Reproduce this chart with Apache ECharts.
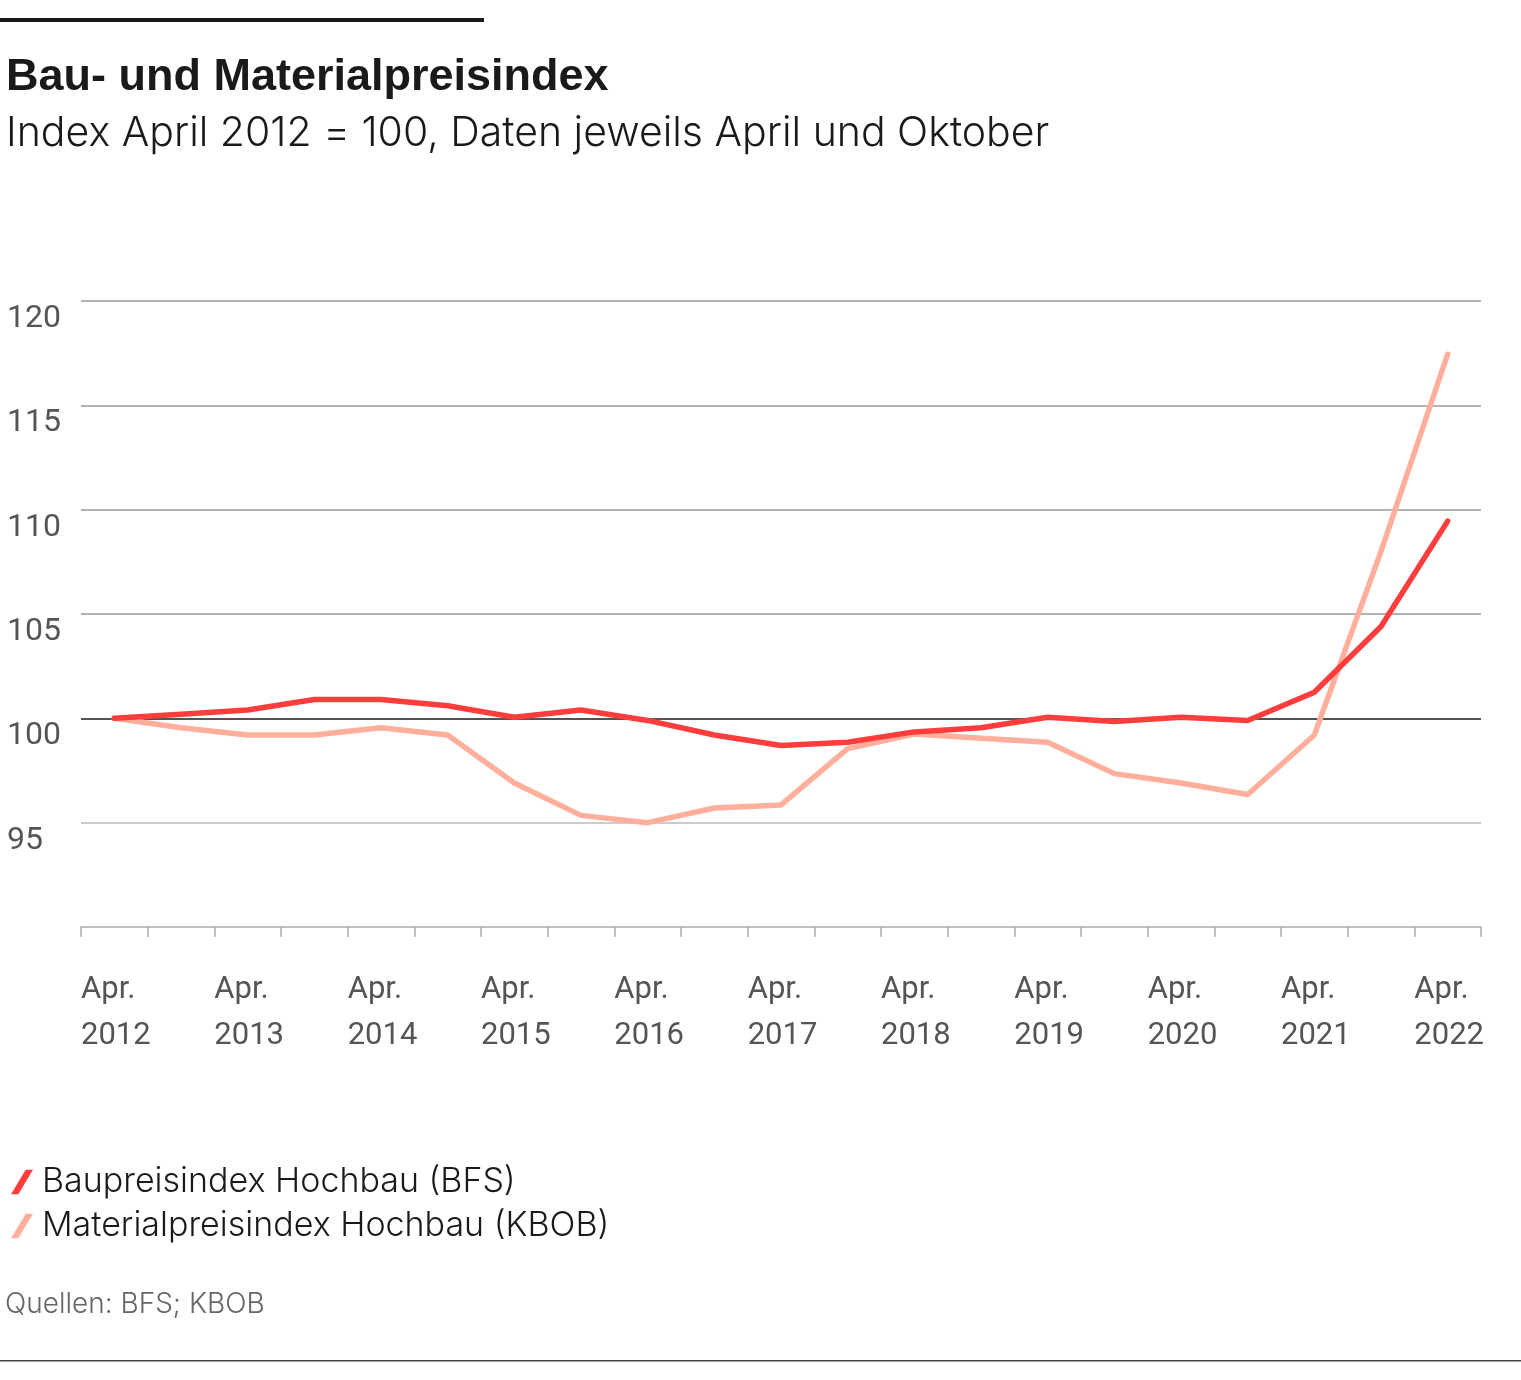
<!DOCTYPE html>
<html><head><meta charset="utf-8">
<script src="https://cdn.jsdelivr.net/npm/echarts@6/dist/echarts.min.js"></script>
<style>html,body{margin:0;padding:0;background:#fff}#c{width:1521px;height:1380px}</style>
</head><body><div id="c"></div>
<script>
const periods = ['Apr. 2012','Okt. 2012','Apr. 2013','Okt. 2013','Apr. 2014','Okt. 2014','Apr. 2015','Okt. 2015','Apr. 2016','Okt. 2016','Apr. 2017','Okt. 2017','Apr. 2018','Okt. 2018','Apr. 2019','Okt. 2019','Apr. 2020','Okt. 2020','Apr. 2021','Okt. 2021','Apr. 2022'];
const tickYears = [2012,2013,2014,2015,2016,2017,2018,2019,2020,2021,2022];
const bfs  = [100.0,100.2,100.4,100.9,100.9,100.6,100.05,100.4,99.9,99.2,98.7,98.85,99.35,99.55,100.05,99.85,100.05,99.9,101.25,104.4,109.45];
const kbob = [100.0,99.55,99.2,99.2,99.55,99.2,96.9,95.35,95.0,95.7,95.85,98.55,99.25,99.05,98.85,97.35,96.9,96.35,99.2,108.0,117.45];

const toXY = arr => arr.map((v,i)=>[i+0.5, v]);
const chart = echarts.init(document.getElementById('c'), null, {renderer:'canvas'});
const font = 'Roboto, "Liberation Sans", sans-serif';
const textFont = 'Inter, "Liberation Sans", sans-serif';
chart.setOption({
  backgroundColor:'#fff',
  animation:false,
  graphic:[
    {type:'rect', shape:{x:0,y:18,width:484,height:4}, style:{fill:'#1a1a1a'}},
    {type:'rect', shape:{x:0,y:1360,width:1521,height:1.5}, style:{fill:'#444'}},
    {type:'text', left:5, top:1291, style:{text:'Quellen: BFS; KBOB', fill:'#666', font:'300 28px '+textFont}}
  ],
  title:{
    text:'Bau- und Materialpreisindex',
    subtext:'Index April 2012 = 100, Daten jeweils April und Oktober',
    left:1, top:50,
    itemGap:13,
    textStyle:{fontFamily:'"Liberation Sans", Arial, sans-serif', fontSize:45, fontWeight:'bold', color:'#1a1a1a'},
    subtextStyle:{fontFamily:textFont, fontSize:41, fontWeight:300, color:'#1a1a1a'}
  },
  legend:{
    orient:'vertical', left:6, top:1160, itemGap:10,
    itemWidth:22, itemHeight:28,
    textStyle:{fontFamily:textFont, fontSize:34, fontWeight:300, color:'#1a1a1a', padding:[0,0,0,4]},
    data:[
      {name:'Baupreisindex Hochbau (BFS)', icon:'path://M6,0 L9,0 L3,10 L0,10 Z'},
      {name:'Materialpreisindex Hochbau (KBOB)', icon:'path://M6,0 L9,0 L3,10 L0,10 Z'}
    ]
  },
  grid:{left:81, right:40, top:301, bottom:453},
  xAxis:{
    type:'value', min:0, max:21, interval:1,
    axisLine:{show:true, lineStyle:{color:'#bbb', width:1.5}},
    axisTick:{show:true, length:10, lineStyle:{color:'#aaa', width:1.5}},
    splitLine:{show:false},
    axisLabel:{
      show:true, margin:40, align:'left', lineHeight:46,
      fontFamily:font, fontSize:31, color:'#555',
      formatter: v => (v % 2 === 0 && v/2 < tickYears.length) ? 'Apr.\n' + tickYears[v/2] : ''
    }
  },
  yAxis:{
    type:'value', min:90, max:120, interval:5,
    axisLine:{show:false}, axisTick:{show:false},
    axisLabel:{
      show:true, showMinLabel:false, align:'left', verticalAlign:'top', margin:74,
      fontFamily:font, fontSize:32, color:'#555', padding:[2,0,0,0]
    },
    splitLine:{show:true, lineStyle:{color:['#bbb','#bbb','#1a1a1a','#999','#999','#999','#999'], width:1.5}}
  },
  series:[
    {name:'Baupreisindex Hochbau (BFS)', type:'line', data:toXY(bfs), showSymbol:false, symbol:'none',
     z:3, lineStyle:{color:'#ff3d3d', width:5.5, cap:'round', join:'round'}, itemStyle:{color:'#ff3d3d'}},
    {name:'Materialpreisindex Hochbau (KBOB)', type:'line', data:toXY(kbob), showSymbol:false, symbol:'none',
     z:2, lineStyle:{color:'#ffaf9b', width:5.5, cap:'round', join:'round'}, itemStyle:{color:'#ffaf9b'}}
  ]
});
</script></body></html>
